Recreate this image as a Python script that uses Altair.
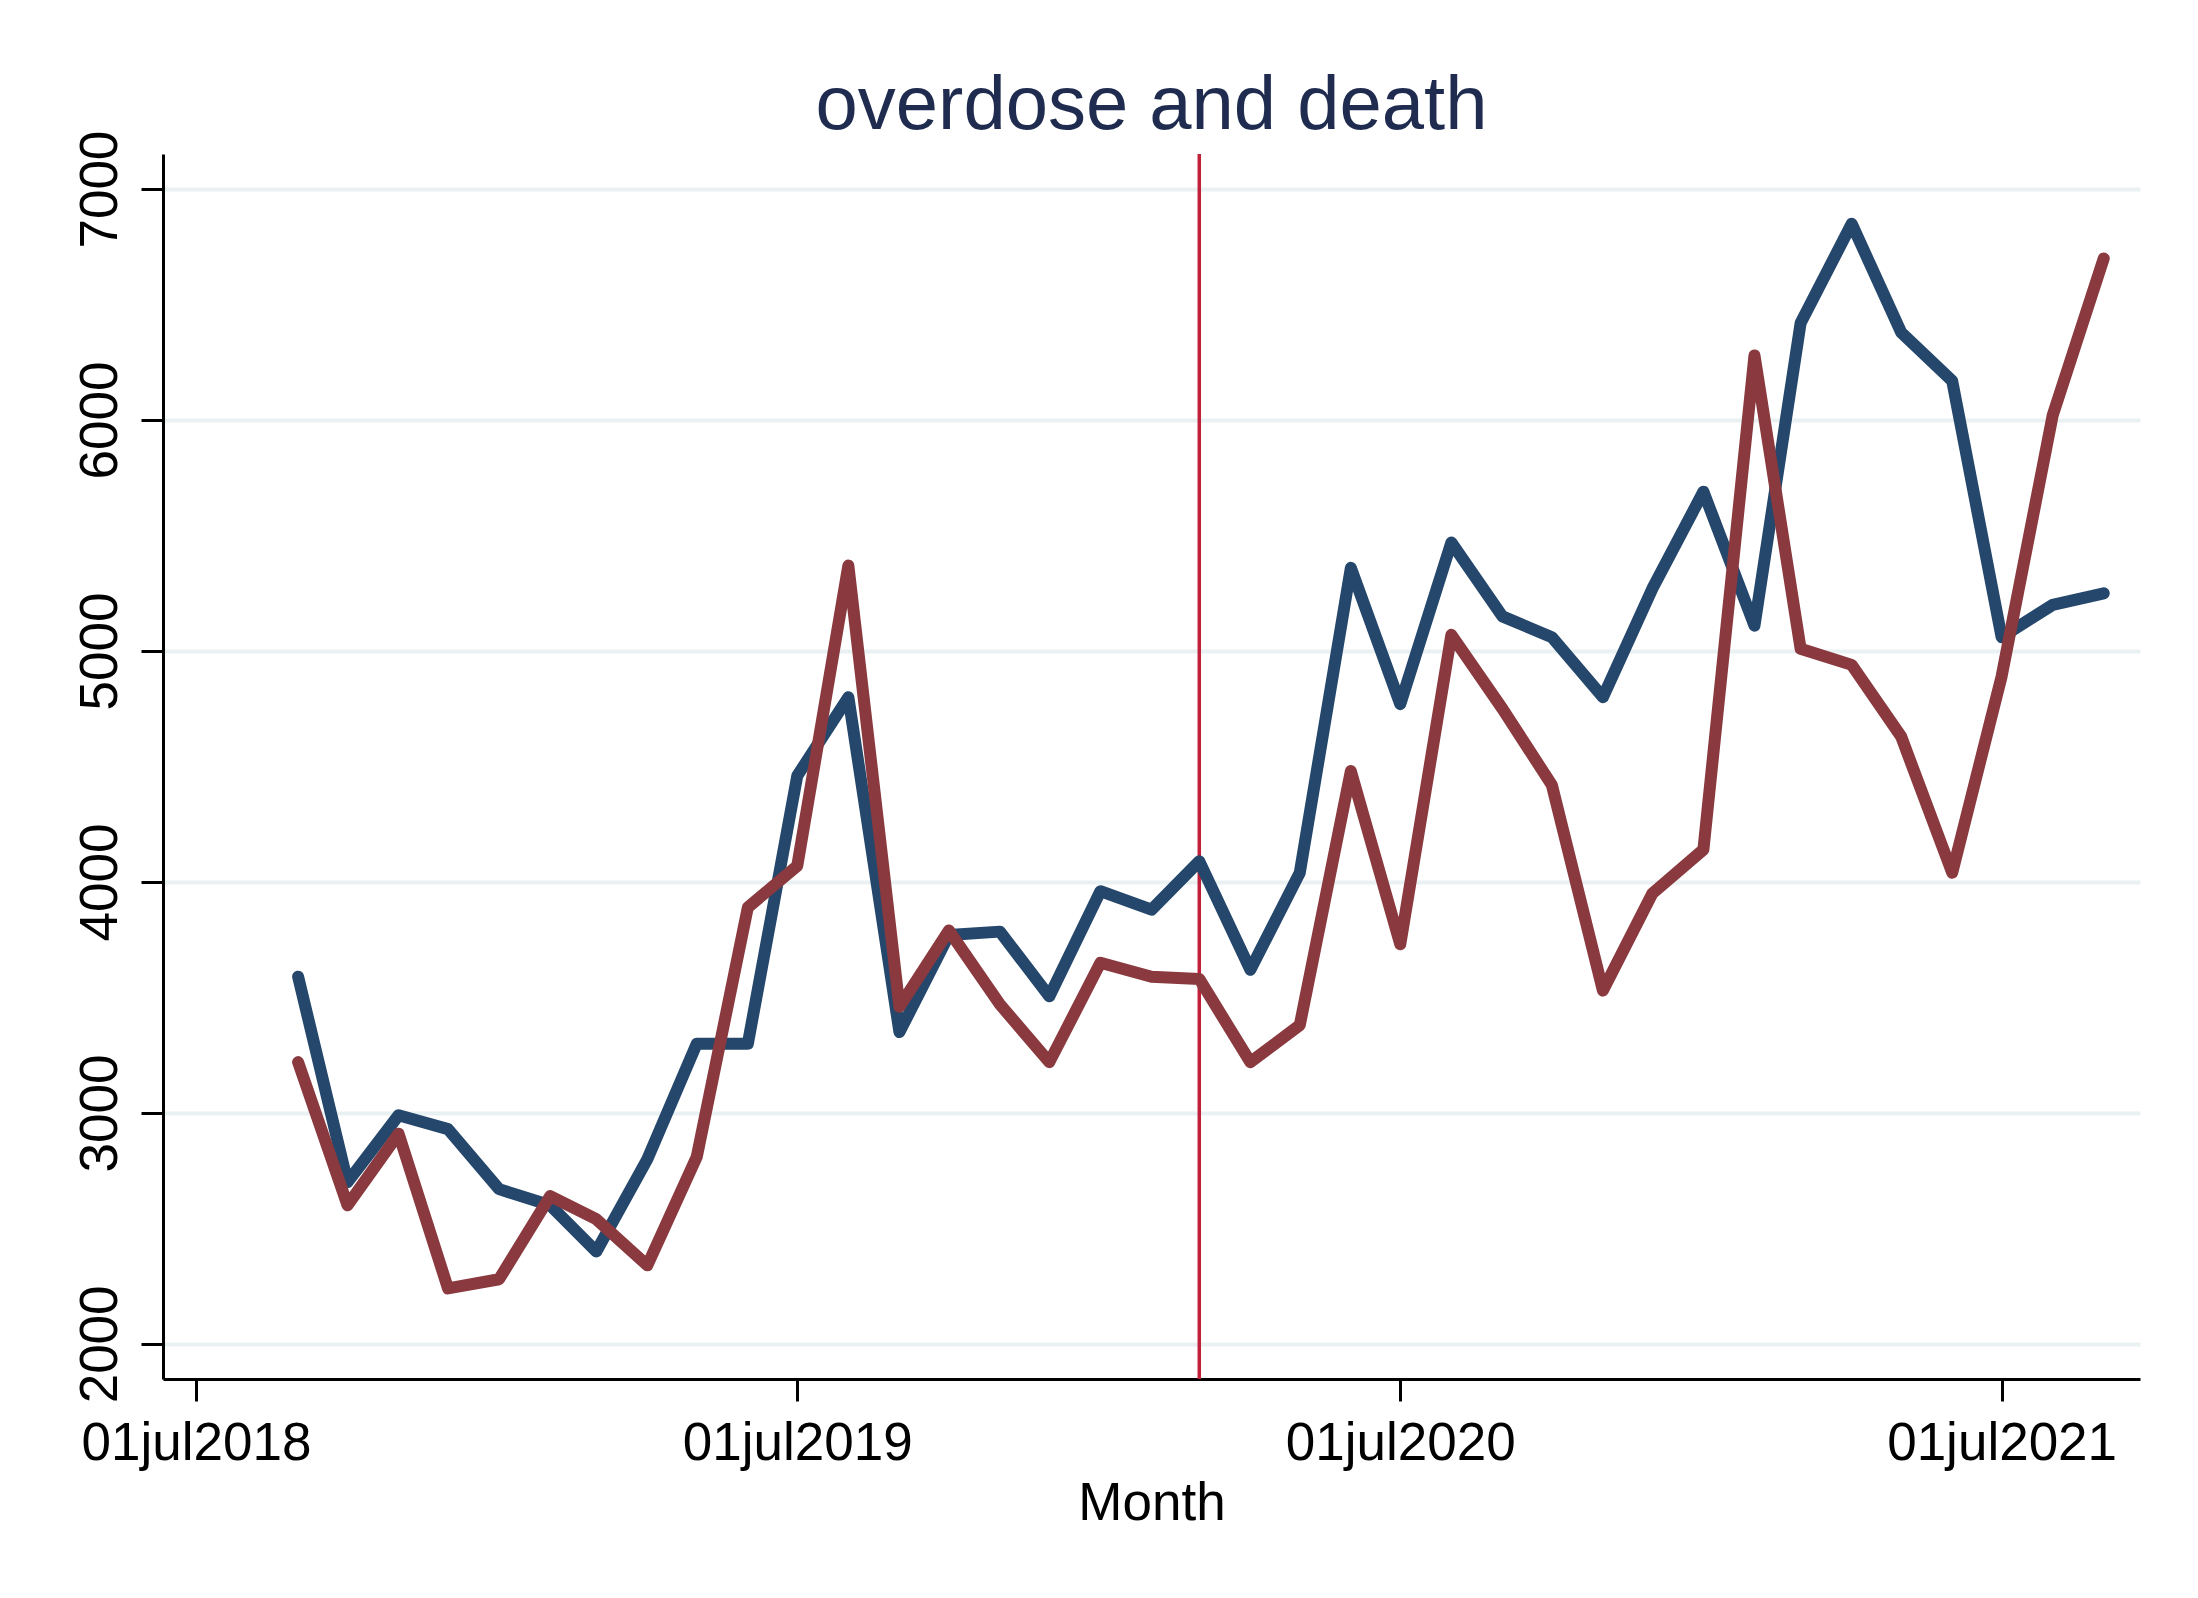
import altair as alt
import pandas as pd

months = pd.date_range("2018-09-01", "2021-09-01", freq="MS").strftime("%Y-%m-%d").tolist()

overdose = [3590, 2700, 2990, 2930, 2670, 2600, 2400, 2800, 3300, 3300,
            4460, 4800, 3350, 3770, 3785, 3505, 3960, 3880, 4090, 3620,
            4040, 5360, 4770, 5470, 5150, 5060, 4800, 5270, 5690, 5110,
            6420, 6850, 6380, 6170, 5060, 5200, 5250]

death = [3220, 2600, 2910, 2240, 2280, 2640, 2540, 2340, 2810, 3890,
         4070, 5370, 3460, 3790, 3470, 3220, 3650, 3590, 3580, 3220,
         3380, 4480, 3730, 5070, 4750, 4420, 3530, 3950, 4140, 6280,
         5010, 4940, 4630, 4040, 4890, 6020, 6700]

event_date = ["2020-03-01"]
y_ticks = [2000, 3000, 4000, 5000, 6000, 7000]
x_tick_years = [2018, 2019, 2020, 2021]

df = pd.DataFrame({"month": months, "overdose": overdose, "death": death})
ev = pd.DataFrame({"month": event_date})

FONT = "Liberation Sans"

x_scale = alt.Scale(
    type="utc",
    domain=[alt.DateTime(year=2018, month=6, date=11, utc=True),
            alt.DateTime(year=2021, month=9, date=23, utc=True)],
)
y_scale = alt.Scale(domain=[1848, 7152], nice=False, zero=False)

x_axis = alt.Axis(
    values=[alt.DateTime(year=y, month=7, date=1, utc=True) for y in x_tick_years],
    labelExpr="lower(utcFormat(datum.value, '%d%b%Y'))",
    title="Month",
    grid=False,
    domainColor="black", domainWidth=3,
    tickColor="black", tickWidth=3, tickSize=22,
    labelPadding=16, labelFontSize=53, labelFont=FONT, labelColor="black",
    labelFlush=False, labelOverlap=False, labelLimit=0,
    titleFont=FONT, titleFontSize=53, titleFontWeight="normal", titleColor="black",
    titleBaseline="alphabetic", titleY=140,
)
y_axis = alt.Axis(
    values=y_ticks,
    format="d",
    title=None,
    grid=True, gridColor="#EAF1F3", gridWidth=4,
    domainColor="black", domainWidth=3,
    tickColor="black", tickWidth=3, tickSize=22,
    labelAngle=270, labelAlign="center", labelBaseline="alphabetic",
    labelPadding=25, labelFontSize=53, labelFont=FONT, labelColor="black",
    labelFlush=False, labelOverlap=False, labelLimit=0,
)

base = alt.Chart(df)

blue = base.mark_line(color="#25476C", strokeWidth=12, strokeCap="round", strokeJoin="round").encode(
    x=alt.X("month:T", scale=x_scale, axis=x_axis),
    y=alt.Y("overdose:Q", scale=y_scale, axis=y_axis),
)
red = base.mark_line(color="#8A3A3F", strokeWidth=12, strokeCap="round", strokeJoin="round").encode(
    x=alt.X("month:T", scale=x_scale),
    y=alt.Y("death:Q", scale=y_scale),
)
rule = alt.Chart(ev).mark_rule(color="#C1203B", strokeWidth=3.5).encode(
    x=alt.X("month:T", scale=x_scale),
)

chart = alt.layer(rule, blue, red).properties(
    width=1977,
    height=1225,
    autosize=alt.AutoSizeParams(type="none"),
    padding={"left": 155, "top": 146, "right": 50, "bottom": 211},
    title=alt.Title(
        "overdose and death",
        font=FONT, fontSize=76, fontWeight="normal", color="#1F2C4F",
        anchor="middle", frame="group", baseline="alphabetic", offset=-75,
    ),
).configure(background="white").configure_view(strokeWidth=0, stroke="transparent")

chart.save("out.html", embed_options={"renderer": "svg", "actions": False})
